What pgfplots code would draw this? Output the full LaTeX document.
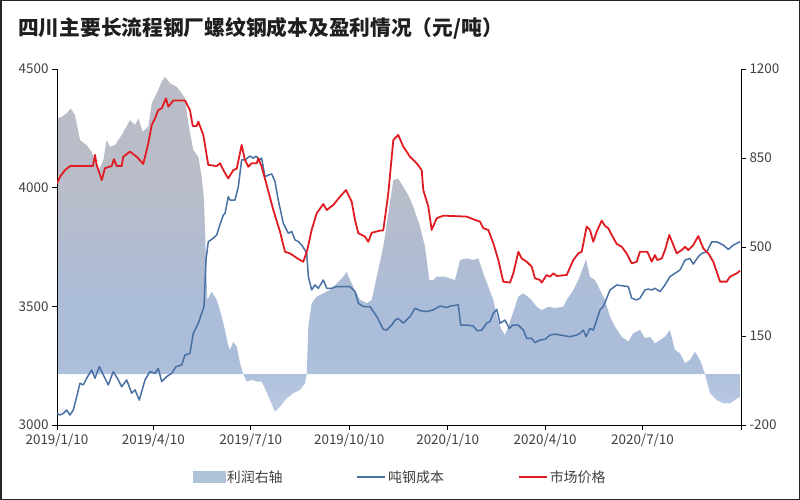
\documentclass[border=0pt]{standalone}
\usepackage{fontspec}
\setmainfont{Noto Sans CJK SC}
\usepackage{pgfplots}
\usepackage{pgfplotstable}
\pgfplotsset{compat=1.18}

\definecolor{priceRed}{RGB}{222,28,34}
\definecolor{costBlue}{RGB}{72,112,162}
\definecolor{aT}{RGB}{186,189,200}
\definecolor{aT2}{RGB}{179,188,207}
\definecolor{aM}{RGB}{171,189,217}
\definecolor{aB}{RGB}{187,202,228}
\definecolor{areaLeg}{RGB}{176,194,216}
\definecolor{labelGray}{RGB}{64,64,64}
\pgfdeclareverticalshading{areashade}{100bp}{color(0bp)=(aB); color(25bp)=(aB); color(33bp)=(aM); color(41bp)=(aM); color(51bp)=(aT2); color(60bp)=(aT); color(100bp)=(aT)}

% x = days after 2019/1/10
\pgfplotstableread{
day value
0 4018
2.8 4046
7.5 4074
12.1 4091
33.6 4091
35.5 4138
37.1 4095
41.8 4032
44.8 4082
51.1 4091
53.2 4120
55.8 4091
60.4 4091
61.9 4130
68.2 4152
74.5 4130
80.6 4100
85.3 4187
88.5 4264
91.6 4292
94.6 4327
97.8 4334
101.8 4376
104.0 4341
108.6 4367
119.6 4367
124.2 4327
126.8 4260
130.5 4260
132.0 4278
136.7 4222
141.3 4096
149.2 4091
152.3 4103
155.4 4074
160.0 4039
164.7 4074
167.9 4080
172.5 4180
175.6 4117
178.7 4088
181.9 4103
186.6 4103
188.1 4124
191.2 4088
195.9 4011
202.1 3906
208.3 3815
213.0 3730
217.7 3723
222.3 3709
227.0 3695
230.1 3688
233.8 3737
237.9 3822
242.6 3892
248.8 3931
252.0 3906
258.1 3927
264.4 3962
270.0 3990
275.3 3941
278.4 3864
281.5 3808
287.7 3794
290.8 3772
294.0 3810
301.7 3819
304.8 3820
309.5 3976
314.2 4201
318.8 4222
323.5 4173
329.8 4130
336.0 4103
340.7 4074
342.2 3990
346.9 3920
350.0 3822
354.7 3871
360.9 3882
382.7 3878
390.5 3864
395.2 3857
398.3 3829
402.9 3822
407.6 3766
412.3 3695
416.9 3604
423.2 3600
426.3 3639
431.0 3730
434.1 3702
438.8 3688
443.5 3667
446.5 3618
451.2 3611
452.8 3600
457.5 3632
460.6 3625
463.6 3639
466.8 3628
476.2 3632
482.3 3695
487.0 3723
490.2 3730
494.8 3836
497.9 3822
501.0 3772
504.2 3815
508.9 3861
511.9 3839
515.0 3829
518.2 3801
522.9 3763
527.5 3751
532.2 3723
536.9 3681
541.6 3688
544.6 3730
551.5 3730
555.6 3688
558.6 3716
560.8 3695
565.0 3702
568.0 3737
572.0 3801
575.8 3758
579.0 3723
583.6 3737
586.7 3751
589.8 3737
594.4 3758
599.1 3796
603.8 3744
608.5 3723
613.1 3688
616.3 3646
619.4 3604
625.6 3604
628.7 3625
635.0 3639
638.1 3650
}\pricetable

\pgfplotstableread{
day value
0 3049
2.8 3042
5.9 3049
9.1 3063
12.1 3042
15.2 3063
18.4 3119
21.5 3176
24.6 3169
27.7 3197
32.4 3232
35.5 3197
39.5 3246
43.3 3211
47.9 3169
52.6 3225
57.3 3190
60.4 3161
65.1 3190
69.8 3134
72.9 3148
76.9 3105
82.2 3190
86.9 3225
91.6 3218
94.6 3239
97.8 3183
102.5 3204
107.2 3218
111.2 3246
116.5 3253
119.6 3295
124.2 3302
127.3 3386
132.0 3429
135.2 3471
137.3 3499
139.2 3695
141.3 3772
146.0 3787
149.2 3801
152.3 3845
155.4 3885
157.0 3892
160.0 3962
161.6 3948
166.3 3948
169.4 4004
172.5 4117
175.6 4117
180.3 4133
183.4 4124
185.9 4133
189.0 4117
191.2 4124
194.3 4046
197.4 4053
200.6 4058
203.7 4025
206.7 3948
211.4 3850
216.1 3808
219.3 3815
222.3 3780
225.4 3773
228.6 3758
231.7 3737
233.3 3723
234.8 3625
237.9 3569
241.0 3590
244.1 3576
248.8 3611
252.0 3576
256.6 3576
261.3 3583
273.7 3583
278.4 3562
281.5 3513
286.2 3499
292.4 3499
298.7 3457
304.8 3403
308.0 3400
312.7 3421
315.8 3442
318.8 3449
323.5 3429
329.8 3457
334.5 3492
339.1 3482
345.4 3478
351.5 3485
357.8 3501
364.1 3495
367.1 3501
374.9 3506
377.1 3421
382.7 3421
388.9 3417
392.6 3397
396.8 3400
401.4 3429
404.5 3436
407.6 3471
410.8 3487
413.9 3429
418.5 3442
422.5 3407
425.7 3421
431.0 3421
435.6 3400
438.8 3365
443.5 3365
446.5 3347
451.2 3358
455.9 3361
460.6 3379
465.2 3383
479.2 3372
485.5 3379
488.6 3386
491.7 3400
494.2 3372
497.9 3407
501.0 3400
504.2 3442
507.3 3485
510.4 3499
513.5 3534
516.6 3569
522.9 3590
529.0 3586
533.7 3583
536.9 3534
541.6 3527
544.6 3534
549.3 3569
552.4 3573
555.6 3569
558.6 3576
563.3 3562
568.0 3590
572.6 3625
577.3 3639
582.0 3653
586.7 3695
591.3 3702
594.4 3678
599.1 3709
602.3 3723
607.0 3730
611.7 3772
616.3 3772
622.5 3758
627.2 3740
631.8 3758
638.1 3772
}\costtable

\pgfplotstableread{
day value
0 0
0 1006
4.4 1012
9.1 1026
12.8 1045
16.8 1019
21.5 921
27.7 901
32.4 875
35.5 842
38.6 796
43.3 842
46.4 921
49.5 894
54.2 901
60.4 940
68.2 999
72.9 980
76.0 1006
80.1 953
85.3 973
88.5 1065
93.1 1104
97.8 1150
100.9 1170
105.6 1144
111.8 1130
116.5 1104
119.6 1085
122.7 986
127.3 881
132.0 855
135.2 776
137.3 685
139.2 449
140.4 292
144.5 324
149.2 292
152.3 250
156.0 190
159.8 115
161.6 95
164.7 127
167.9 108
171.0 43
174.0 0
177.2 -29
181.9 -23
186.6 -29
191.2 -29
194.3 -56
199.0 -102
203.7 -148
208.3 -128
214.6 -95
220.8 -75
227.0 -62
231.7 -36
233.3 0
234.8 187
237.9 279
242.6 305
248.8 318
255.0 331
261.3 357
267.5 383
270.6 403
273.7 370
276.8 344
283.1 292
289.3 279
294.0 292
298.7 383
304.8 501
309.5 632
314.2 763
318.8 768
323.5 737
328.2 704
332.9 658
339.1 580
343.8 501
347.8 370
351.5 370
354.7 383
362.5 383
371.8 370
376.5 449
382.7 455
388.9 449
393.6 455
398.3 396
402.9 344
407.6 292
410.8 226
415.4 174
418.5 154
421.6 187
426.3 245
431.0 305
435.6 318
441.9 298
448.1 265
452.8 252
459.0 265
465.2 260
473.0 265
476.2 292
482.3 331
487.0 370
491.7 422
494.2 451
497.9 383
502.6 370
507.3 331
511.9 292
516.6 226
521.3 187
527.5 147
533.7 128
538.4 161
544.6 174
549.3 141
554.0 147
558.6 121
563.3 134
568.0 147
572.6 174
577.3 95
582.0 82
586.7 43
591.3 56
596.0 88
600.7 56
605.4 0
610.1 -75
616.3 -102
622.5 -115
628.7 -115
633.3 -102
638.1 -89
638.1 0
}\profittable

\begin{document}
\begin{tikzpicture}
\path[use as bounding box] (0,0) rectangle (800bp,500bp);
\draw[black!85, line width=1.5bp] (0.75bp,0.75bp) rectangle (799.25bp,499.25bp);
\node[anchor=west, font=\fontsize{20.8}{24}\selectfont\bfseries, text=black!88, inner sep=0pt] at (18bp,472bp) {四川主要长流程钢厂螺纹钢成本及盈利情况（元/吨）};

% right axis: profit area
\begin{axis}[
  scale only axis, width=684bp, height=356bp,
  at={(57bp,75bp)}, anchor=south west,
  xmin=0, xmax=639,
  ymin=-200, ymax=1200,
  axis x line=none,
  axis y line*=right,
  ytick={-200,150,500,850,1200},
  yticklabels={-200,150,500,850,1200},
  tick align=outside,
  major tick length=5bp,
  y axis line style={black, line width=0.8bp},
  ytick style={black, line width=0.8bp},
  yticklabel style={font=\fontsize{13.5}{15}\selectfont, text=labelGray},
]
\addplot[draw=none, shade, shading=areashade] table[x=day, y=value] {\profittable};
\end{axis}

% left axis: cost and price
\begin{axis}[
  scale only axis, width=684bp, height=356bp,
  at={(57bp,75bp)}, anchor=south west,
  xmin=0, xmax=639,
  ymin=3000, ymax=4500,
  axis x line*=bottom,
  axis y line*=left,
  xtick={0,90,181,273,365,456,547,639},
  xticklabels={2019/1/10,2019/4/10,2019/7/10,2019/10/10,2020/1/10,2020/4/10,2020/7/10,},
  ytick={3000,3500,4000,4500},
  yticklabels={3000,3500,4000,4500},
  tick align=outside,
  major tick length=5bp,
  axis line style={black, line width=0.8bp},
  tick style={black, line width=0.8bp},
  ticklabel style={font=\fontsize{13.5}{15}\selectfont, text=labelGray},
  legend columns=3,
  legend style={at={(0.5015,-0.146)}, anchor=center, draw=none, fill=none,
    font=\fontsize{14}{16}\selectfont, text=labelGray,
    /tikz/every even column/.append style={column sep=72bp}},
  legend image code/.code={\draw[#1] (0bp,0bp) -- (28bp,0bp);},
]
\addlegendimage{legend image code/.code={\fill[areaLeg] (0bp,-5.5bp) rectangle (32bp,5.5bp);}}
\addplot[costBlue, line width=1.5bp, line join=round] table[x=day, y=value] {\costtable};
\addplot[priceRed, line width=1.8bp, line join=round] table[x=day, y=value] {\pricetable};
\legend{利润右轴,吨钢成本,市场价格}
\end{axis}
\end{tikzpicture}
\end{document}
